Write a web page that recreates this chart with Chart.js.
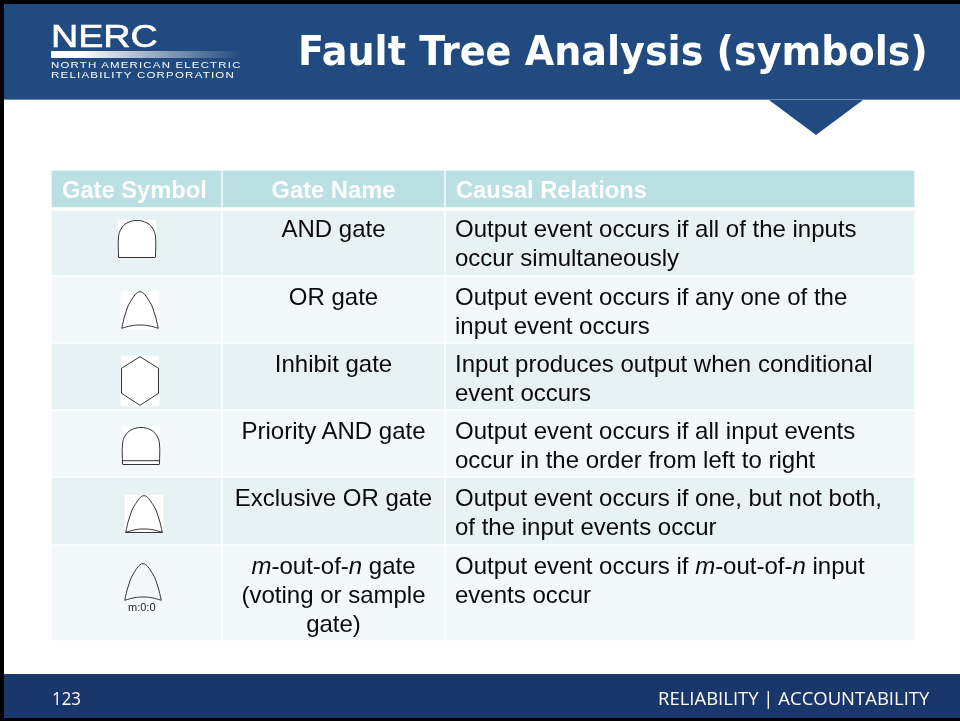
<!DOCTYPE html>
<html>
<head>
<meta charset="utf-8">
<script src="https://cdn.jsdelivr.net/npm/chart.js@4"></script>
<style>
  html, body { margin: 0; padding: 0; background: #fff; }
  #slide { position: relative; width: 960px; height: 721px; overflow: hidden; background: #fff; }
  #slide div, #slide canvas { position: absolute; }
  #slide canvas { left: 0; top: 0; }
  .t { white-space: nowrap; color: #fff; transform-origin: left center; }
  .cell { font: 24px/29px "Liberation Sans", Arial, sans-serif; color: #0a0a0a; white-space: pre; }
  .head { font: bold 23.7px/29px "Liberation Sans", Arial, sans-serif; color: #fff; white-space: pre; }
  #band { left: 4px; top: 4px; width: 956px; height: 95px; background: #214b80; border-bottom: 1px solid #6c8bb0; }
  #notch { left: 769px; top: 100px; width: 94px; height: 35px; background: #214b80; clip-path: polygon(0 0, 100% 0, 50% 100%); }
  #foot { left: 4px; top: 674px; width: 956px; height: 44px; background: #19376b; }
  #edgeL { left: 0; top: 0; width: 4px; height: 721px; background: #000; }
  #edgeT { left: 0; top: 0; width: 960px; height: 4px; background: #000; }
  #edgeB { left: 0; top: 718px; width: 960px; height: 3px; background: #000; }
  #logoBar { left: 51px; top: 51px; width: 190px; height: 7px; background: linear-gradient(90deg, #fff 0%, #fff 15%, rgba(255,255,255,0) 100%); }
</style>
</head>
<body>
<div id="slide">
  <div id="band"></div>
  <div id="notch"></div>
  <div id="foot"></div>
  <div id="edgeL"></div>
  <div id="edgeT"></div>
  <div id="edgeB"></div>
  <div id="logoBar"></div>
  <canvas id="table" width="960" height="721"></canvas>
</div>
<script>
// table contents
const headers = ['Gate Symbol', 'Gate Name', 'Causal Relations'];
const gateNames = [
  'AND gate',
  'OR gate',
  'Inhibit gate',
  'Priority AND gate',
  'Exclusive OR gate',
  '<i>m</i>-out-of-<i>n</i> gate\n(voting or sample\ngate)'
];
const relations = [
  'Output event occurs if all of the inputs\noccur simultaneously',
  'Output event occurs if any one of the\ninput event occurs',
  'Input produces output when conditional\nevent occurs',
  'Output event occurs if all input events\noccur in the order from left to right',
  'Output event occurs if one, but not both,\nof the input events occur',
  'Output event occurs if <i>m</i>-out-of-<i>n</i> input\nevents occur'
];

// table grid, in page pixels
const colEdges = [[52, 221], [223, 444], [446, 914]];
const rowEdges = [[171, 207], [211, 275], [277, 342], [344, 409], [411, 476], [478, 544], [546, 640]];
const rowColors = ['#bbe0e3', '#e7f2f4', '#f3f8fb', '#e7f2f4', '#f3f8fb', '#e7f2f4', '#f3f8fb'];
const textTops = [176, 214, 282, 349, 416, 483, 551];

// gate outlines, relative to the corner of each symbol
const roundTop = [[0.5, 37], [0.5, 17], [3, 9], [9, 3], [19, 0.5], [29, 3], [35, 9], [37.5, 17], [37.5, 37]];
const pointedTop = [[0.7, 37.3], [4, 24], [9.5, 10.5], [19, 0.7], [28.5, 10.5], [34, 24], [37.3, 37.3]];
const curvedBase = [[0.7, 37.3], [10, 34.8], [19, 34], [28, 34.8], [37.3, 37.3]];
const flatBase = [[0.5, 37.5], [37.5, 37.5]];
const priorityBar = [[0.5, 33.7], [37.5, 33.7]];
const hexagon = [[19, 0.7], [37.5, 12.3], [37.5, 37.3], [19, 49.3], [0.5, 37.3], [0.5, 12.3], [19, 0.7]];

const gates = [
  { at: [118, 220], box: [38, 38], curves: [roundTop], lines: [flatBase] },
  { at: [121, 291], box: [38, 38], curves: [pointedTop, curvedBase], lines: [] },
  { at: [121, 356], box: [38, 50], curves: [], lines: [hexagon] },
  { at: [122, 427], box: [38, 37], curves: [roundTop], lines: [flatBase, priorityBar] },
  { at: [125, 495], box: [38, 38], curves: [pointedTop, curvedBase], lines: [flatBase] },
  { at: [124, 563], box: null, curves: [pointedTop, curvedBase], lines: [] }
];

const slide = document.querySelector('#slide');

function addText(cls, html, left, top, css) {
  const el = document.createElement('div');
  el.className = cls;
  el.innerHTML = html;
  el.style.left = left + 'px';
  el.style.top = top + 'px';
  if (css) el.style.cssText += css;
  slide.appendChild(el);
  return el;
}

// stretch a line of text to the width it has in the slide
function addFitted(html, left, top, width, css) {
  const el = addText('t', html, left, top, css);
  el.style.transform = 'scaleX(' + width / el.offsetWidth + ')';
  el.style.transformOrigin = 'left center';
  return el;
}

function placed(points, at) {
  return points.map(p => ({ x: p[0] + at[0], y: p[1] + at[1] }));
}

const datasets = [];

rowEdges.forEach((row, i) => {
  datasets.push({
    type: 'bar',
    indexAxis: 'y',
    grouped: false,
    order: 3,
    barThickness: row[1] - row[0],
    backgroundColor: rowColors[i],
    borderSkipped: false,
    data: colEdges.map(col => ({ x: col, y: (row[0] + row[1]) / 2 }))
  });
});

gates.forEach(g => {
  if (g.box) {
    datasets.push({
      type: 'bar',
      indexAxis: 'y',
      grouped: false,
      order: 2,
      barThickness: g.box[1],
      backgroundColor: '#ffffff',
      data: [{ x: [g.at[0], g.at[0] + g.box[0]], y: g.at[1] + g.box[1] / 2 }]
    });
  }
  g.curves.forEach(c => {
    datasets.push({
      type: 'line', order: 1, data: placed(c, g.at), tension: 0.4,
      borderColor: '#333', borderWidth: 1, pointRadius: 0, fill: false
    });
  });
  g.lines.forEach(l => {
    datasets.push({
      type: 'line', order: 1, data: placed(l, g.at), tension: 0,
      borderColor: '#333', borderWidth: 1, pointRadius: 0, fill: false
    });
  });
});

new Chart(document.querySelector('#table').getContext('2d'), {
  data: { datasets },
  options: {
    responsive: false,
    animation: false,
    events: [],
    layout: { padding: 0 },
    plugins: { legend: { display: false }, tooltip: { enabled: false } },
    scales: {
      x: { type: 'linear', min: 0, max: 960, display: false, offset: false },
      y: { type: 'linear', min: 0, max: 721, reverse: true, display: false, offset: false }
    }
  }
});

// header row
addText('head', headers[0], 62, textTops[0]);
addText('head', headers[1], 223, textTops[0], 'width:221px;text-align:center;');
addText('head', headers[2], 456, textTops[0]);

// body rows
gateNames.forEach((name, i) => {
  addText('cell', name, 223, textTops[i + 1], 'width:221px;text-align:center;');
  addText('cell', relations[i], 455, textTops[i + 1]);
});

addText('t', 'm:0:0', 128, 601, 'font:11px "Liberation Sans",sans-serif;color:#222;');

// title, logo, footer
addFitted('Fault Tree Analysis (symbols)', 298, 27, 630, 'font:bold 41px "DejaVu Sans",sans-serif;');
addFitted('NERC', 51, 19, 107, 'font:31px "Liberation Sans",sans-serif;-webkit-text-stroke:0.6px #fff;');
addFitted('NORTH AMERICAN ELECTRIC', 51, 59, 190, 'font:9.5px "Liberation Sans",sans-serif;letter-spacing:1px;');
addFitted('RELIABILITY CORPORATION', 51, 69, 184, 'font:9.5px "Liberation Sans",sans-serif;letter-spacing:1px;');
addFitted('123', 52, 686, 29, 'font:18px "Open Sans",sans-serif;');
addFitted('RELIABILITY | ACCOUNTABILITY', 658, 686, 271, 'font:18px "Open Sans",sans-serif;');
</script>
</body>
</html>
